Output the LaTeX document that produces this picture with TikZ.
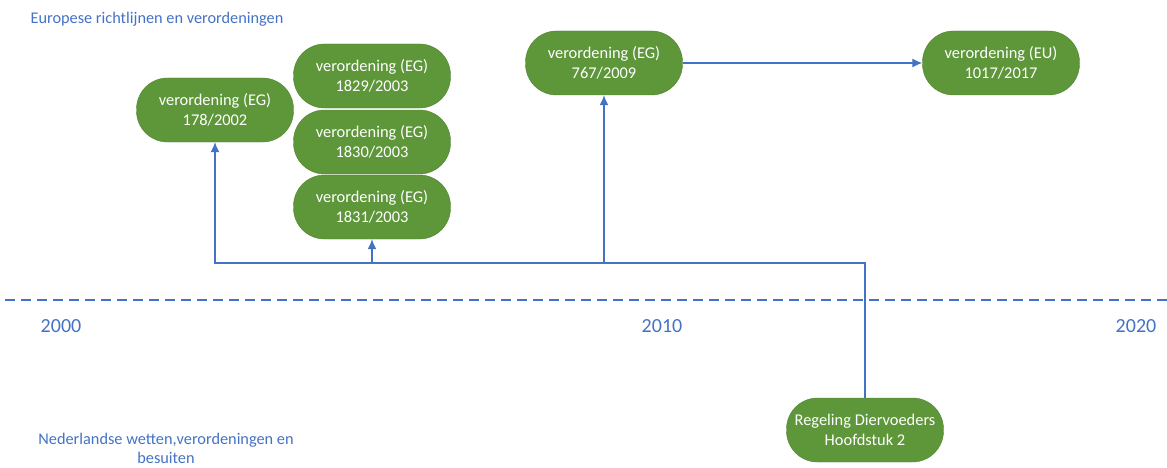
\documentclass[tikz,border=0pt]{standalone}
\usepackage{fontspec}
\setmainfont{Carlito}
\usetikzlibrary{arrows.meta}
\definecolor{groen}{RGB}{94,150,58}
\definecolor{groenrand}{RGB}{80,132,48}
\definecolor{blauw}{RGB}{68,114,196}
\tikzset{
  regel/.style={rectangle, rounded corners=31pt, fill=groen, draw=groenrand,
    minimum width=157pt, minimum height=64pt, inner sep=0pt, text=white,
    align=center, font=\fontsize{16.4}{20}\selectfont},
  lijn/.style={blauw, line width=1.2pt},
  jaar/.style={text=blauw, font=\fontsize{20}{24}\selectfont},
  kop/.style={text=blauw, align=center, font=\fontsize{16.3}{19}\selectfont}
}
\begin{document}
\begin{tikzpicture}[x=1pt, y=1pt, >={Latex[length=10pt,width=9pt]}]
\useasboundingbox (0,0) rectangle (1167,467);
% kopjes
\node[kop] (eu) at (157,448) {Europese richtlijnen en verordeningen};
\node[kop] (nl) at (166,19) {Nederlandse wetten,verordeningen en\\besuiten};
% tijdlijn
\draw[lijn, dash pattern=on 10pt off 6pt] (5,167)--(1167,167);
\node[jaar] (j2000) at (61,141) {2000};
\node[jaar] (j2010) at (662,141) {2010};
\node[jaar] (j2020) at (1136,141) {2020};
% verordeningen
\node[regel] (v178) at (215,357) {verordening (EG)\\178/2002};
\node[regel] (v1829) at (372,391) {verordening (EG)\\1829/2003};
\node[regel] (v1830) at (372,325) {verordening (EG)\\1830/2003};
\node[regel] (v1831) at (372,260) {verordening (EG)\\1831/2003};
\node[regel] (v767) at (604,404) {verordening (EG)\\767/2009};
\node[regel] (v1017) at (1001,404) {verordening (EU)\\1017/2017};
\node[regel] (rd) at (865,37) {Regeling Diervoeders\\Hoofdstuk 2};
% verbindingen
\coordinate (bus) at (0,204);
\draw[lijn, ->] (rd.north) |- (v178.south |- bus) -- (v178.south);
\draw[lijn, ->] (v1831.south |- bus) -- (v1831.south);
\draw[lijn, ->] (v767.south |- bus) -- (v767.south);
\draw[lijn, ->] (v767) -- (v1017);
\end{tikzpicture}
\end{document}
